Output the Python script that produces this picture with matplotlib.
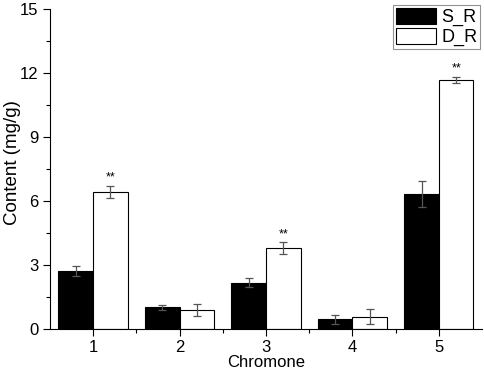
import matplotlib.pyplot as plt
import numpy as np

plt.rcParams['font.family'] = ['Liberation Sans', 'DejaVu Sans']

categories = ['1', '2', '3', '4', '5']
s_r = [2.72, 1.02, 2.17, 0.45, 6.33]
s_r_err = [0.24, 0.12, 0.22, 0.22, 0.6]
d_r = [6.42, 0.88, 3.78, 0.58, 11.66]
d_r_err = [0.3, 0.27, 0.28, 0.36, 0.15]
marks = ['**', '', '**', '', '**']

x = np.arange(1, len(categories) + 1)
w = 0.4

fig = plt.figure(figsize=(4.84, 3.73), dpi=100)
ax = fig.add_axes([0.103, 0.118, 0.893, 0.858])

ekw = dict(ecolor='#555555', elinewidth=0.9, capsize=3, capthick=0.9)
ax.bar(x - w/2, s_r, w, yerr=s_r_err, color='black', edgecolor='black',
       linewidth=0.8, error_kw=ekw, label='S_R')
ax.bar(x + w/2, d_r, w, yerr=d_r_err, color='white', edgecolor='black',
       linewidth=0.8, error_kw=ekw, label='D_R')

for xi, v, e, m in zip(x, d_r, d_r_err, marks):
    if m:
        ax.text(xi + w/2, v + e + 0.1, m, ha='center', va='bottom', fontsize=9)

ax.set_xlim(0.5, 5.5)
ax.set_ylim(0, 15)
ax.set_xticks(x)
ax.set_xticklabels(categories)
ax.set_xticks(x[:-1] + 0.5, minor=True)
ax.set_yticks([0, 3, 6, 9, 12, 15])
ax.set_yticks(np.arange(1.5, 15, 3), minor=True)
ax.tick_params(which='major', direction='out', length=5, width=0.8, labelsize=12, pad=3)
ax.tick_params(which='minor', direction='out', length=3, width=0.8)
for s in ['top', 'right']:
    ax.spines[s].set_visible(False)
for s in ['left', 'bottom']:
    ax.spines[s].set_linewidth(0.8)

ax.set_xlabel('Chromone', fontsize=12, labelpad=0)
ax.set_ylabel('Content (mg/g)', fontsize=13.5)
ax.yaxis.set_label_coords(-0.067, 0.52)

leg = ax.legend(loc='upper right', bbox_to_anchor=(0.995, 1.0125),
                fontsize=13, fancybox=False, edgecolor='#777777',
                handlelength=2.2, handleheight=1.0, handletextpad=0.3,
                borderpad=0.15, labelspacing=0.1, borderaxespad=0)
leg.get_frame().set_linewidth(0.8)

fig.savefig('out.png', dpi=100)
